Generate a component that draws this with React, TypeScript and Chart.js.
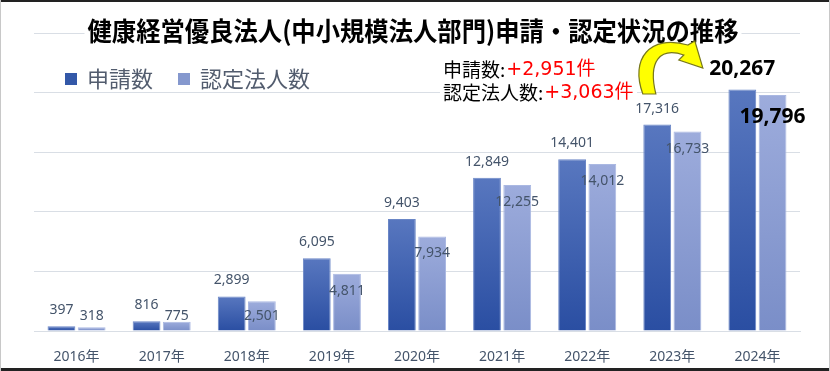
import React, { useEffect, useRef } from "react";
import { Chart, registerables } from "chart.js";

Chart.register(...registerables);

const years = ["2016年", "2017年", "2018年", "2019年", "2020年", "2021年", "2022年", "2023年", "2024年"];
const applications = [397, 816, 2899, 6095, 9403, 12849, 14401, 17316, 20267];
const certified = [318, 775, 2501, 4811, 7934, 12255, 14012, 16733, 19796];
const seriesNames = ["申請数", "認定法人数"];
const titleText = "健康経営優良法人(中小規模法人部門)申請・認定状況の推移";
const noteLabels = ["申請数:", "認定法人数:"];
const noteValues = ["+2,951件", "+3,063件"];

const LABEL_COLOR = "#44546A";
const GRADS = [
  ["#5877BF", "#2A4EA2"],
  ["#9DACDC", "#7A8EC8"],
];
const FLAT = ["#3358A8", "#8598CE"];

const fmt = (v: number) => v.toLocaleString("en-US");

function gradientFor(di: number) {
  return (c: any) => {
    const chart = c.chart;
    const ys = chart.scales && chart.scales.y;
    if (!chart.chartArea || !ys || c.type !== "data" || typeof c.raw !== "number") return FLAT[di];
    const top = ys.getPixelForValue(c.raw);
    const base = ys.getPixelForValue(0);
    if (!isFinite(top) || !isFinite(base) || base - top < 1) return FLAT[di];
    const g = chart.ctx.createLinearGradient(0, top, 0, base);
    g.addColorStop(0, GRADS[di][0]);
    g.addColorStop(1, GRADS[di][1]);
    return g;
  };
}

const decorPlugin = {
  id: "decor",
  afterDatasetsDraw(chart: any) {
    const ctx = chart.ctx;
    const ys = chart.scales.y;
    const base = ys.getPixelForValue(0);
    ctx.save();
    ctx.textAlign = "center";
    ctx.textBaseline = "middle";
    const m0 = chart.getDatasetMeta(0);
    const m1 = chart.getDatasetMeta(1);
    const n = m0.data.length;
    m0.data.forEach((el: any, i: number) => {
      const last = i === n - 1;
      ctx.font = last ? 'bold 21px "Noto Sans", "Open Sans"' : '14px "Noto Sans", "Open Sans"';
      ctx.fillStyle = last ? "#000000" : LABEL_COLOR;
      ctx.fillText(fmt(applications[i]), el.x, el.y - (last ? 20 : 16));
    });
    m1.data.forEach((el: any, i: number) => {
      const last = i === n - 1;
      ctx.font = last ? 'bold 21px "Noto Sans", "Open Sans"' : '14px "Noto Sans", "Open Sans"';
      ctx.fillStyle = last ? "#000000" : LABEL_COLOR;
      const y = last ? el.y + 22 : Math.min(el.y + 17, base - 15);
      ctx.fillText(fmt(certified[i]), el.x, y);
    });
    ctx.restore();
  },
  afterDraw(chart: any) {
    const ctx = chart.ctx;
    const W = chart.width;
    const H = chart.height;
    const xs = chart.scales.x;
    const ys = chart.scales.y;
    ctx.save();

    // Title with white backing
    const tcx = W / 2 - 2;
    const tcy = 31;
    ctx.font = 'bold 26px "Noto Sans CJK JP"';
    const tw = Math.min(ctx.measureText(titleText).width, 651);
    ctx.fillStyle = "#ffffff";
    ctx.fillRect(tcx - tw / 2 - 3, tcy - 16, tw + 6, 32);
    ctx.fillStyle = "#000000";
    ctx.textAlign = "center";
    ctx.textBaseline = "middle";
    ctx.fillText(titleText, tcx, tcy, 651);

    // Legend
    ctx.textAlign = "left";
    ctx.textBaseline = "middle";
    ctx.font = '22px "Noto Sans CJK JP"';
    let lx = 65;
    const ly = 79;
    seriesNames.forEach((name, i) => {
      ctx.fillStyle = FLAT[i];
      ctx.fillRect(lx, ly - 6, 12, 12);
      ctx.fillStyle = "#525C6E";
      ctx.fillText(name, lx + 22, ly);
      lx += 22 + ctx.measureText(name).width + 25;
    });

    // Annotation box
    const ax = 443;
    ctx.fillStyle = "#ffffff";
    ctx.fillRect(ax - 3, 58, 197, 46);
    const lineYs = [70, 93];
    noteLabels.forEach((lab, i) => {
      ctx.font = '19px "Noto Sans CJK JP"';
      ctx.fillStyle = "#000000";
      ctx.fillText(lab, ax, lineYs[i]);
      const w = ctx.measureText(lab).width;
      ctx.font = '19px "DejaVu Sans", "Noto Sans CJK JP"';
      ctx.fillStyle = "#FF0000";
      ctx.fillText(noteValues[i], ax + w + 1, lineYs[i]);
    });

    // Curved arrow anchored to 2023 column
    const ox = xs.getPixelForValue(7);
    const oy = ys.getPixelForValue(20000);
    const P = (dx: number, dy: number): [number, number] => [ox + dx, oy + dy];
    ctx.beginPath();
    ctx.moveTo(...P(-29.5, 1.4));
    ctx.bezierCurveTo(...P(-42.5, -33.6), ...P(-22.5, -58.6), ...P(15.5, -47.6));
    ctx.lineTo(...P(22.5, -51.6));
    ctx.lineTo(...P(30.5, -24.6));
    ctx.lineTo(...P(6.5, -32.6));
    ctx.lineTo(...P(11.5, -37.6));
    ctx.bezierCurveTo(...P(-12.5, -45.6), ...P(-24.5, -31.6), ...P(-16.5, 1.4));
    ctx.closePath();
    ctx.fillStyle = "#FFFF00";
    ctx.fill();
    ctx.strokeStyle = "#77771C";
    ctx.lineWidth = 1.2;
    ctx.stroke();

    // Frame
    ctx.fillStyle = "#222222";
    ctx.fillRect(0, 0, W, 2);
    ctx.fillRect(0, H - 3, W, 3);
    ctx.fillStyle = "#C8C8C8";
    ctx.fillRect(0, 0, 1, H);
    ctx.fillRect(W - 1, 0, 1, H);
    ctx.restore();
  },
};

export default function App() {
  const ref = useRef<HTMLCanvasElement | null>(null);
  useEffect(() => {
    document.body.style.margin = "0";
    const canvas = ref.current;
    if (!canvas) return;
    const chart = new Chart(canvas, {
      type: "bar",
      data: {
        labels: years,
        datasets: [
          {
            label: seriesNames[0],
            data: applications,
            backgroundColor: gradientFor(0),
            borderColor: "#6A86C6",
            borderWidth: 1,
            categoryPercentage: 0.71,
            barPercentage: 0.92,
          },
          {
            label: seriesNames[1],
            data: certified,
            backgroundColor: gradientFor(1),
            borderColor: "#AAB8E2",
            borderWidth: 1,
            categoryPercentage: 0.71,
            barPercentage: 0.92,
          },
        ],
      },
      options: {
        responsive: false,
        maintainAspectRatio: false,
        animation: false,
        layout: { padding: { left: 34, right: 30, top: 33, bottom: 8 } },
        plugins: {
          legend: { display: false },
          title: { display: false },
          tooltip: { enabled: false },
        },
        scales: {
          x: {
            grid: { display: false },
            border: { display: true, color: "#D9DEE5", width: 1 },
            ticks: {
              color: LABEL_COLOR,
              font: { family: '"Noto Sans", "Noto Sans CJK JP"', size: 14 },
              padding: 10,
            },
            afterFit: (scale: any) => {
              scale.height = 32;
            },
          },
          y: {
            min: 0,
            max: 25000,
            ticks: { display: false, stepSize: 5000 },
            grid: { color: "#D9DEE5", lineWidth: 1, drawTicks: false },
            border: { display: false },
          },
        },
      },
      plugins: [decorPlugin],
    });
    return () => chart.destroy();
  }, []);
  return (
    <div style={{ width: 830, height: 371, background: "#ffffff" }}>
      <canvas ref={ref} width={830} height={371} style={{ display: "block" }} />
    </div>
  );
}
